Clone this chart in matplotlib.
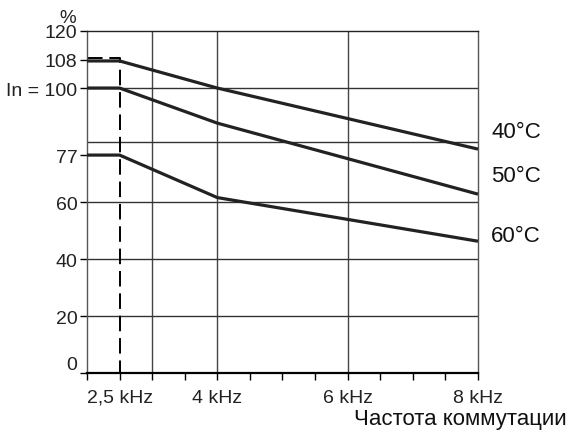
import matplotlib
matplotlib.use("Agg")
import matplotlib.pyplot as plt

plt.rcParams['font.family'] = ['Liberation Sans', 'DejaVu Sans']

# Data (frequency in kHz, current in %)
freq = [2.0, 2.5, 4.0, 8.0]
curve_40 = [109.5, 109.5, 100.0, 78.6]
curve_50 = [100.0, 100.0, 87.7, 62.8]
curve_60 = [76.5, 76.5, 61.6, 46.3]
series_labels = ["40°C", "50°C", "60°C"]

ref_x = [2.0, 2.5, 2.5]
ref_y = [110.5, 110.5, 0.0]

ytick_vals = [0, 20, 40, 60, 76.5, 100, 110, 120]
ytick_labels = ["0", "20", "40", "60", "77", "In = 100", "108", "120"]
xtick_major = [2.5, 4, 6, 8]
xtick_labels = ["2,5 kHz", "4 kHz", "6 kHz", "8 kHz"]
xtick_minor = [2.0, 3.0, 3.5, 4.5, 5.0, 5.5, 6.5, 7.0, 7.5]
xgrid = [3, 4, 6]
ygrid = [20, 40, 60, 81, 100]

fig = plt.figure(figsize=(5.71, 4.35), dpi=100)
ax = fig.add_axes([87/571, 1-374.3/435, (478-87)/571, (374.3-32)/435])
ax.set_xlim(2, 8)
ax.set_ylim(0, 120)

for g in xgrid:
    ax.axvline(g, color='#444444', lw=1.0, zorder=1)
for g in ygrid:
    ax.axhline(g, color='#333333', lw=1.0, zorder=1)

for s in ['left', 'right']:
    ax.spines[s].set_color('#555555')
    ax.spines[s].set_linewidth(1.0)
ax.spines['top'].set_color('#222222')
ax.spines['top'].set_linewidth(1.0)
ax.spines['bottom'].set_color('black')
ax.spines['bottom'].set_linewidth(1.6)

ax.plot(ref_x, ref_y, color='black', lw=1.4, dashes=(8, 3.5), zorder=2, clip_on=False)

for yv in (curve_40, curve_50, curve_60):
    ax.plot(freq, yv, color='#222222', lw=2.3, zorder=3, clip_on=False, solid_capstyle='butt')

label_ypix = [133, 177, 237]
for lab, ypix in zip(series_labels, label_ypix):
    fig.text(491/571, 1-ypix/435, lab, fontsize=16, va='center', ha='left', color='#111111')

ax.set_yticks(ytick_vals)
ax.set_yticklabels(ytick_labels, fontsize=14, color='#222222')
ax.tick_params(axis='y', direction='out', length=5, width=1.0, color='black', pad=2)
ax.get_yticklabels()[0].set_verticalalignment('bottom')

ax.set_xticks(xtick_major)
ax.set_xticklabels(xtick_labels, fontsize=14, color='#222222')
ax.set_xticks(xtick_minor, minor=True)
ax.tick_params(axis='x', which='both', direction='out', length=5, width=1.0, color='black', pad=6)

fig.text(68/571, 1-10/435, "%", fontsize=13.5, ha='center', va='top', color='#222222')
fig.text(567/571, 1-420/435, "Частота коммутации", fontsize=16, ha='right', va='center', color='#111111')

fig.savefig("out.png", dpi=100)
